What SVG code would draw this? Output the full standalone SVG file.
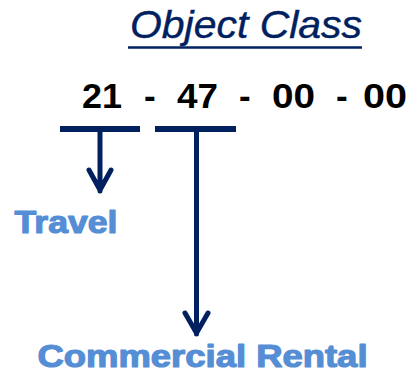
<svg xmlns="http://www.w3.org/2000/svg" width="409" height="371" viewBox="0 0 409 371">
<style>
.title{font-family:"Liberation Sans",Arial,sans-serif;font-style:italic;font-size:39px;fill:#002060;stroke:#002060;stroke-width:0.4}
.code{font-family:"Liberation Sans",Arial,sans-serif;font-weight:bold;font-size:35px;fill:#000}
.lbl{font-family:"Liberation Sans",Arial,sans-serif;font-weight:bold;font-size:32px;fill:#558ED5;stroke:#558ED5;stroke-width:1.2;stroke-linejoin:round}
.bar{stroke:#002060;stroke-width:6;fill:none}
.ln{stroke:#002060;stroke-width:5;fill:none;stroke-linecap:round;stroke-linejoin:round}
</style>
<rect width="409" height="371" fill="#fff"/>
<g id="title">
<text class="title" x="130" y="38" textLength="232" lengthAdjust="spacingAndGlyphs">Object Class</text>
<line x1="128" y1="47.5" x2="362" y2="47.5" stroke="#002060" stroke-width="2.5"/>
</g>
<g id="code">
<text class="code" x="82" y="108" textLength="40" lengthAdjust="spacingAndGlyphs">21</text>
<text class="code" x="144" y="108">-</text>
<text class="code" x="177" y="108" textLength="41" lengthAdjust="spacingAndGlyphs">47</text>
<text class="code" x="239" y="108">-</text>
<text class="code" x="272" y="108" textLength="43" lengthAdjust="spacingAndGlyphs">00</text>
<text class="code" x="336" y="108">-</text>
<text class="code" x="363" y="108" textLength="44" lengthAdjust="spacingAndGlyphs">00</text>
</g>
<g id="connectors">
<line class="bar" x1="60" y1="129" x2="140" y2="129"/>
<line class="bar" x1="155" y1="129" x2="236" y2="129"/>
<path class="ln" d="M100 131 V191 M89 170 L100 190 L111 170"/>
<path class="ln" d="M196.5 131 V334 M185 313 L196.5 333 L208 313"/>
</g>
<g id="travel">
<text class="lbl" x="14.5" y="232.5" textLength="103" lengthAdjust="spacingAndGlyphs">Travel</text>
</g>
<g id="commercial-rental">
<text class="lbl" x="37.5" y="366.5" font-size="33" textLength="330" lengthAdjust="spacingAndGlyphs">Commercial Rental</text>
</g>
</svg>
